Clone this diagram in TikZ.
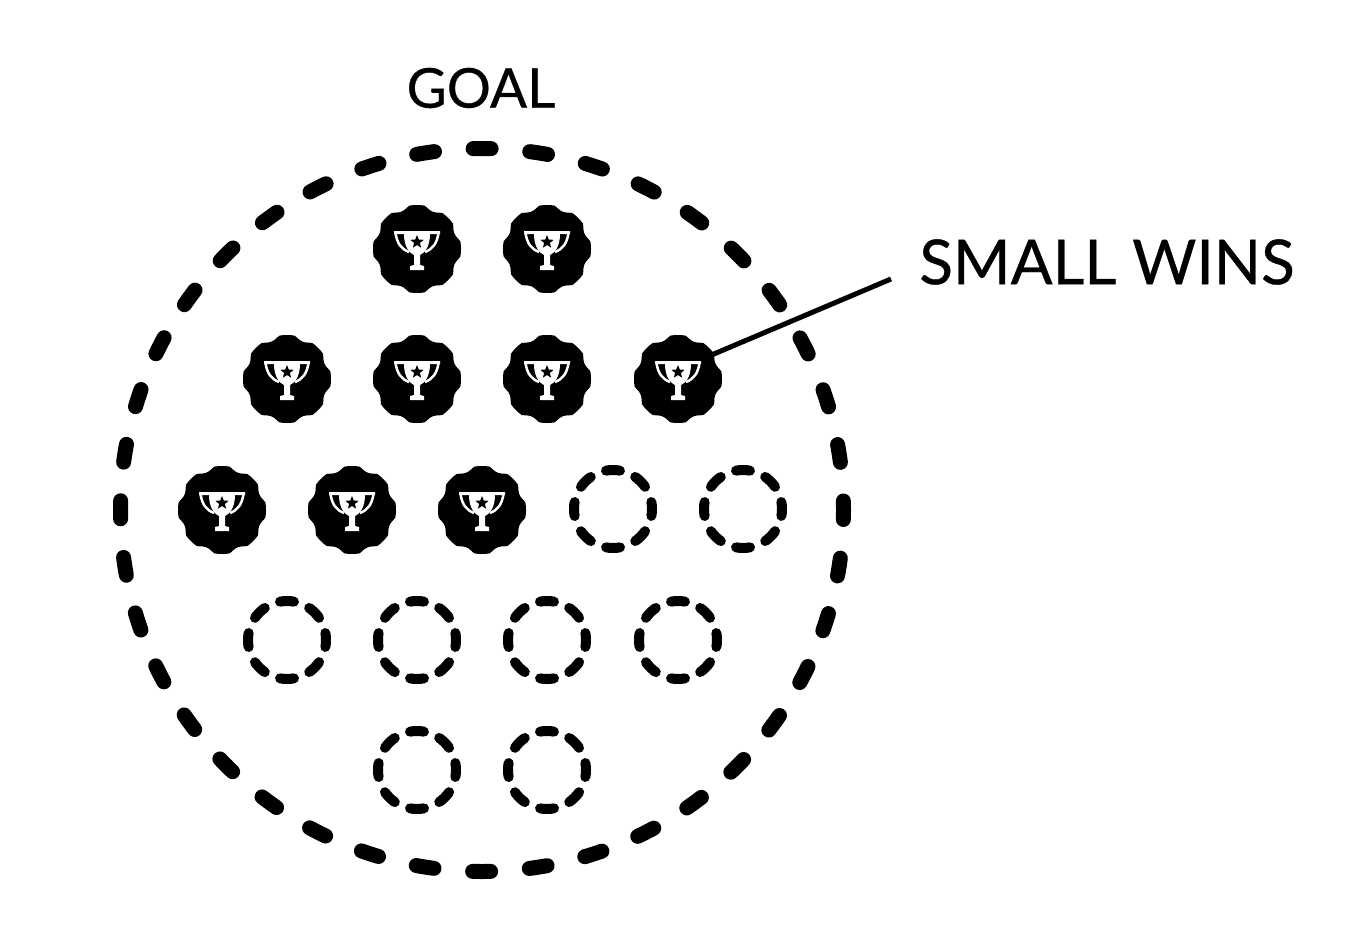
\documentclass[tikz,border=0pt]{standalone}
\usepackage{fontspec}
\setmainfont{Lato}[FakeBold=0.6]
\usetikzlibrary{shapes.geometric}
\tikzset{
x=1pt, y=-1pt,
goalring/.style={draw, circle, inner sep=0, outer sep=0, minimum size=723pt, line width=15pt, line cap=round, dash pattern=on 18pt off 38.78pt, dash phase=9pt},
slot/.style={draw, circle, inner sep=0, outer sep=0, minimum size=78pt, line width=10pt, line cap=round, dash pattern=on 14pt off 16.63pt, dash phase=7pt},
hub/.style={circle, fill=black, inner sep=0, outer sep=0, minimum size=80pt},
goaltext/.style={font=\fontsize{55}{60}\selectfont},
winstext/.style={font=\fontsize{62}{60}\selectfont},
leader/.style={line width=5pt},
badge/.pic={
    \fill plot[domain=0:360, samples=289] (\x:{40.5+3.5*min(1,1.7*(0.5+0.5*cos(8*\x)))});
    \node[hub] (-hub) at (0,0) {};
    % cup
    \fill[white] (-23,-18) -- (23,-18) -- (23,-15) -- (13,-15) .. controls (13,-3) and (8,4) .. (3,6) -- (3,16) -- (7,17) -- (7,21) -- (-7,21) -- (-7,17) -- (-3,16) -- (-3,6) .. controls (-8,4) and (-13,-3) .. (-13,-15) -- (-23,-15) -- cycle;
    % handles
    \draw[white, line width=2.5pt] (-21.5,-16) .. controls (-20,-6) and (-16,0) .. (-8,3);
    \draw[white, line width=2.5pt] (21.5,-16) .. controls (20,-6) and (16,0) .. (8,3);
    \node[star, star points=5, star point ratio=2.3, fill=black, inner sep=0, minimum size=14pt] (-star) at (0,-7) {};
},
}

\begin{document}
\begin{tikzpicture}
    \useasboundingbox (0,0) rectangle (1368,934);

    \node[goalring] (ring) at (482,510) { };
    \node[goaltext] (goal) at (481,88) {GOAL};
    \node[winstext] (wins) at (1107,262) {SMALL WINS};

    %first row
    \pic (w1) at (417,249) {badge};
    \pic (w2) at (547,249) {badge};

    %second row
    \pic (w3) at (287,379) {badge};
    \pic (w4) at (417,379) {badge};
    \pic (w5) at (547,379) {badge};
    \pic (w6) at (678,379) {badge};

    %third row
    \pic (w7) at (222,510) {badge};
    \pic (w8) at (352,510) {badge};
    \pic (w9) at (482,510) {badge};
    \node[slot] (s1) at (613,509) { };
    \node[slot] (s2) at (743,509) { };

    %fourth row
    \node[slot] (s3) at (287,640) { };
    \node[slot] (s4) at (417,640) { };
    \node[slot] (s5) at (547,640) { };
    \node[slot] (s6) at (678,640) { };

    %fifth row
    \node[slot] (s7) at (417,770) { };
    \node[slot] (s8) at (547,770) { };

    % line to the label
    \coordinate (winsend) at (891,279);
    \draw[leader] (w6-hub.36)--(winsend);

\end{tikzpicture}
\end{document}
